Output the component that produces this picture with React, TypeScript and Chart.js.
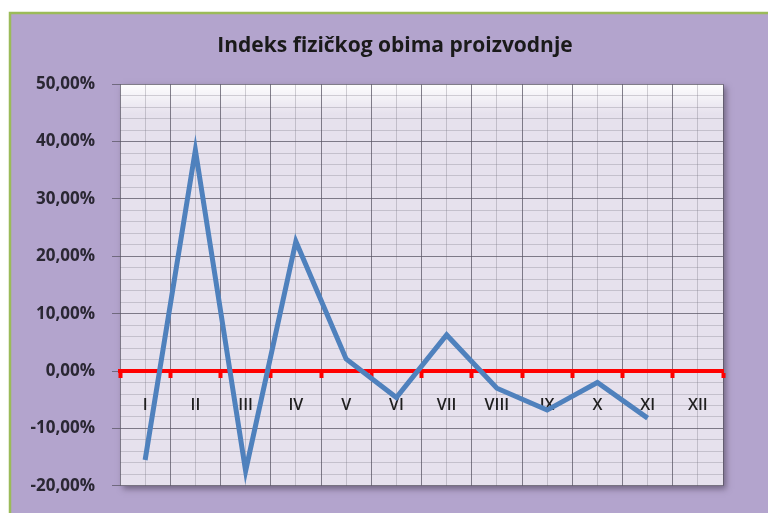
import React, { useEffect, useRef } from "react";
import { Chart, registerables } from "chart.js";

Chart.register(...registerables);

const categories = ["I", "II", "III", "IV", "V", "VI", "VII", "VIII", "IX", "X", "XI", "XII"];
const indexValues: (number | null)[] = [-15.5, 38.5, -17.4, 22.6, 2.1, -4.6, 6.3, -3.0, -6.8, -2.0, -8.2, null];
const yTickValues = [-20, -10, 0, 10, 20, 30, 40, 50];
const titleText = "Indeks fizičkog obima proizvodnje";

const FONT = "'Open Sans', 'DejaVu Sans', sans-serif";

const backgroundPlugin = {
  id: "bgPlugin",
  beforeDraw(chart: any) {
    const { ctx, width, height, chartArea } = chart;
    ctx.save();
    ctx.fillStyle = "#ffffff";
    ctx.fillRect(0, 0, width, height);
    ctx.fillStyle = "#b3a4cd";
    ctx.fillRect(10, 13, width - 10, height - 13);
    ctx.strokeStyle = "#9bbb59";
    ctx.lineWidth = 2.5;
    ctx.beginPath();
    ctx.moveTo(10, height);
    ctx.lineTo(10, 13);
    ctx.lineTo(width, 13);
    ctx.stroke();
    const { left, top, right, bottom } = chartArea;
    ctx.shadowColor = "rgba(60,50,70,0.55)";
    ctx.shadowBlur = 6;
    ctx.shadowOffsetX = 3;
    ctx.shadowOffsetY = 3;
    ctx.fillStyle = "#e6e1ed";
    ctx.fillRect(left, top, right - left, bottom - top);
    ctx.shadowColor = "transparent";
    const g = ctx.createLinearGradient(0, top, 0, top + 30);
    g.addColorStop(0, "rgba(255,255,255,0.95)");
    g.addColorStop(1, "rgba(255,255,255,0)");
    ctx.fillStyle = g;
    ctx.fillRect(left, top, right - left, 30);
    ctx.restore();
  },
};

export default function App() {
  const ref = useRef<HTMLCanvasElement | null>(null);
  useEffect(() => {
    document.body.style.margin = "0";
    if (!ref.current) return;
    const chart = new Chart(ref.current, {
      type: "line",
      data: {
        labels: categories,
        datasets: [
          {
            data: indexValues,
            borderColor: "#4f81bd",
            borderWidth: 5,
            pointRadius: 0,
            tension: 0,
            fill: false,
            xAxisID: "x",
            yAxisID: "y",
          },
        ],
      },
      options: {
        animation: false,
        responsive: false,
        layout: { padding: { left: 22, right: 0, bottom: 26, top: 0 } },
        plugins: {
          legend: { display: false },
          tooltip: { enabled: false },
          title: {
            display: true,
            text: titleText,
            color: "#1a1a1a",
            font: { family: FONT, size: 21, weight: "bold" },
            padding: { top: 33, bottom: 26 },
          },
        },
        scales: {
          x2: {
            type: "category",
            labels: categories,
            position: "bottom",
            offset: true,
            grid: {
              offset: false,
              color: "rgba(110,105,120,0.3)",
              lineWidth: 1,
              drawTicks: false,
            },
            border: { display: false },
            ticks: { display: false },
          },
          yRight: {
            type: "linear",
            position: "right",
            min: -20,
            max: 50,
            grid: { display: false, drawTicks: false },
            border: { display: false },
            ticks: { display: false },
            afterFit(scale: any) {
              scale.width = 45;
            },
          },
          y2: {
            type: "linear",
            position: "left",
            min: -20,
            max: 50,
            grid: {
              color: (c: any) =>
                Math.round(c.tick.value) % 10 === 0 ? "rgba(0,0,0,0)" : "rgba(120,115,130,0.3)",
              lineWidth: 1,
              drawTicks: false,
            },
            border: { display: false },
            ticks: { display: false, stepSize: 2 },
            afterFit(scale: any) {
              scale.width = 0;
            },
          },
          y: {
            type: "linear",
            position: "left",
            min: -20,
            max: 50,
            afterBuildTicks(scale: any) {
              scale.ticks = yTickValues.map((v) => ({ value: v }));
            },
            afterFit(scale: any) {
              scale.width = 98;
            },
            grid: {
              color: "rgba(90,85,100,0.75)",
              lineWidth: 1,
              tickLength: 8,
              tickColor: "rgba(90,85,100,0.75)",
            },
            border: { display: false },
            ticks: {
              padding: 17,
              color: "#2a2733",
              font: { family: FONT, size: 17, weight: "bold" },
              callback: (v: any) => Number(v).toFixed(2).replace(".", ",") + "%",
            },
          },
          x: {
            type: "category",
            position: { y: 0 },
            offset: true,
            grid: {
              offset: true,
              color: "rgba(90,85,100,0.75)",
              lineWidth: 1,
              tickLength: 5,
              tickColor: "#ff0000",
              tickWidth: 4,
            },
            border: { display: true, color: "#ff0000", width: 4 },
            ticks: {
              padding: 20,
              color: "#1f1f1f",
              font: { family: FONT, size: 16, weight: "600" },
            },
          },
        },
      },
      plugins: [backgroundPlugin],
    });
    return () => chart.destroy();
  }, []);
  return <canvas ref={ref} width={768} height={513} style={{ display: "block" }} />;
}
